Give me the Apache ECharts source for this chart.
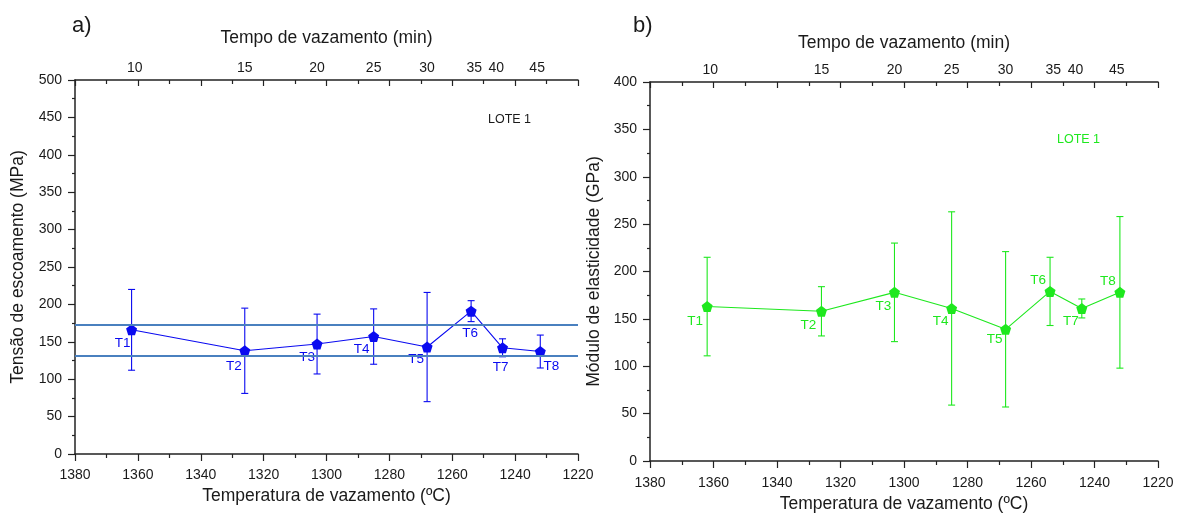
<!DOCTYPE html>
<html>
<head>
<meta charset="utf-8">
<script src="https://cdn.jsdelivr.net/npm/echarts@6/dist/echarts.min.js"></script>
<style>
  html, body { margin: 0; padding: 0; background: #fff; }
  #chart { width: 1180px; height: 521px; }
</style>
</head>
<body>
<div id="chart"></div>
<script>
// Pouring temperature of each sample (°C) and its label
const samples = ['T1', 'T2', 'T3', 'T4', 'T5', 'T6', 'T7', 'T8'];
const pourTemp = [1362, 1326, 1303, 1285, 1268, 1254, 1244, 1232];

// a) Yield stress (MPa) and its standard deviation
const yieldStress = [166, 138, 147, 157, 143, 191, 142, 137];
const yieldErr = [54, 57, 40, 37, 73, 14, 12, 22];
const yieldBand = [173, 131];

// b) Elastic modulus (GPa) and its standard deviation
const modulus = [163, 158, 178, 161, 139, 179, 161, 178];
const modulusErr = [52, 26, 52, 102, 82, 36, 10, 80];

// Pouring time (min) shown on the top axis, at the matching temperature
const timeLabels = ['10', '15', '20', '25', '30', '35', '40', '45'];
const timeAt = [1361, 1326, 1303, 1285, 1268, 1253, 1246, 1233];

// Label placement around each marker [dx, dy]
const labelShiftA = [[-9, 13], [-11, 16], [-10, 13], [-12, 13], [-11, 12], [-1, 22], [-2, 19], [11, 15]];
const labelShiftB = [[-12, 15], [-13, 14], [-11, 14], [-11, 13], [-11, 10], [-12, -11], [-11, 13], [-12, -11]];

const FONT = "'Liberation Sans', Arial, sans-serif";
const INK = '#1a1a1a';
const BLUE = '#0a0af0';
const GREEN = '#1ee81e';
const PENTAGON = 'path://M0,-1L0.951,-0.309L0.588,0.809L-0.588,0.809L-0.951,-0.309Z';

const chart = echarts.init(document.getElementById('chart'), null, { renderer: 'canvas' });

function plain(v) { return String(v); }

function bottomAxis(grid, gap, margin) {
  return {
    type: 'value', gridIndex: grid, position: 'bottom', inverse: true,
    min: 1220, max: 1380, interval: 20,
    name: 'Temperatura de vazamento (ºC)', nameLocation: 'middle', nameGap: gap,
    nameTextStyle: { fontFamily: FONT, fontSize: 17.5, color: INK },
    axisLine: { show: true, onZero: false, lineStyle: { color: '#222', width: 1.5 } },
    axisTick: { show: true, length: 7, lineStyle: { color: '#222', width: 1.2 } },
    minorTick: { show: true, splitNumber: 2, length: 4, lineStyle: { color: '#222', width: 1.2 } },
    axisLabel: { fontFamily: FONT, fontSize: 14, color: INK, margin: margin, formatter: plain, showMinLabel: true, showMaxLabel: true },
    splitLine: { show: false }, minorSplitLine: { show: false }
  };
}

function topAxis(grid, gap, margin) {
  return {
    type: 'value', gridIndex: grid, position: 'top', inverse: true,
    min: 1220, max: 1380, interval: 20,
    name: 'Tempo de vazamento (min)', nameLocation: 'middle', nameGap: gap,
    nameTextStyle: { fontFamily: FONT, fontSize: 17.5, color: INK },
    axisLine: { show: true, onZero: false, lineStyle: { color: '#222', width: 1.5 } },
    axisTick: { show: true, inside: true, length: 6, lineStyle: { color: '#222', width: 1.2 } },
    minorTick: { show: true, splitNumber: 2, length: 4, lineStyle: { color: '#222', width: 1.2 } },
    axisLabel: {
      fontFamily: FONT, fontSize: 14, color: INK, margin: margin,
      customValues: timeAt,
      formatter: function (v) {
        const i = timeAt.findIndex(function (t) { return Math.abs(t - v) < 0.01; });
        return i >= 0 ? timeLabels[i] : '';
      }
    },
    splitLine: { show: false }, minorSplitLine: { show: false }
  };
}

function leftAxis(grid, max, name, gap) {
  return {
    type: 'value', gridIndex: grid, min: 0, max: max, interval: 50,
    name: name, nameLocation: 'middle', nameGap: gap,
    nameTextStyle: { fontFamily: FONT, fontSize: 17.5, color: INK },
    axisLine: { show: true, onZero: false, lineStyle: { color: '#222', width: 1.5 } },
    axisTick: { show: true, length: 7, lineStyle: { color: '#222', width: 1.2 } },
    minorTick: { show: true, splitNumber: 2, length: 3, lineStyle: { color: '#222', width: 1.2 } },
    axisLabel: { fontFamily: FONT, fontSize: 14, color: INK, margin: 13, formatter: plain },
    splitLine: { show: false }, minorSplitLine: { show: false }
  };
}

function errorBars(xIdx, yIdx, values, errs, color) {
  return {
    type: 'custom', xAxisIndex: xIdx, yAxisIndex: yIdx, z: 2, silent: true,
    data: pourTemp.map(function (t, i) { return [t, values[i] - errs[i], values[i] + errs[i]]; }),
    renderItem: function (params, api) {
      const top = api.coord([api.value(0), api.value(2)]);
      const bot = api.coord([api.value(0), api.value(1)]);
      const w = 3.5;
      const st = { stroke: color, lineWidth: 1.1 };
      return {
        type: 'group',
        children: [
          { type: 'line', shape: { x1: top[0], y1: top[1], x2: bot[0], y2: bot[1] }, style: st },
          { type: 'line', shape: { x1: top[0] - w, y1: top[1], x2: top[0] + w, y2: top[1] }, style: st },
          { type: 'line', shape: { x1: bot[0] - w, y1: bot[1], x2: bot[0] + w, y2: bot[1] }, style: st }
        ]
      };
    }
  };
}

function pointSeries(xIdx, yIdx, values, color, shifts, extra) {
  const s = {
    type: 'line', xAxisIndex: xIdx, yAxisIndex: yIdx, z: 3,
    symbol: PENTAGON, symbolSize: 11, showAllSymbol: true,
    lineStyle: { color: color, width: 1.1 },
    itemStyle: { color: color },
    data: pourTemp.map(function (t, i) {
      return {
        value: [t, values[i]],
        label: { show: true, position: 'inside', offset: shifts[i], formatter: samples[i] }
      };
    }),
    label: { fontFamily: FONT, fontSize: 13.5, color: color, align: 'center', verticalAlign: 'middle' },
    emphasis: { disabled: true },
    animation: false
  };
  return Object.assign(s, extra || {});
}

chart.setOption({
  animation: false,
  backgroundColor: '#ffffff',
  grid: [
    { left: 75, top: 80, width: 503, height: 374, containLabel: false },
    { left: 650, top: 82, width: 508, height: 379, containLabel: false }
  ],
  xAxis: [
    bottomAxis(0, 29, 14),
    topAxis(0, 33, 5),
    bottomAxis(1, 27, 15),
    topAxis(1, 30, 5)
  ],
  yAxis: [
    leftAxis(0, 500, 'Tensão de escoamento (MPa)', 48),
    leftAxis(1, 400, 'Módulo de elasticidade (GPa)', 47)
  ],
  series: [
    errorBars(0, 0, yieldStress, yieldErr, BLUE),
    pointSeries(0, 0, yieldStress, BLUE, labelShiftA, {
      markLine: {
        silent: true, symbol: 'none', animation: false,
        label: { show: false },
        lineStyle: { color: '#4a80bf', width: 2, type: 'solid' },
        data: yieldBand.map(function (v) { return { yAxis: v }; })
      }
    }),
    errorBars(2, 1, modulus, modulusErr, GREEN),
    pointSeries(2, 1, modulus, GREEN, labelShiftB)
  ],
  graphic: [
    { type: 'text', left: 72, top: 15, style: { text: 'a)', font: '22px ' + FONT, fill: INK } },
    { type: 'text', left: 633, top: 15, style: { text: 'b)', font: '22px ' + FONT, fill: INK } },
    { type: 'text', left: 488, top: 113, style: { text: 'LOTE 1', font: '12.5px ' + FONT, fill: INK } },
    { type: 'text', left: 1057, top: 133, style: { text: 'LOTE 1', font: '12.5px ' + FONT, fill: GREEN } }
  ]
});
</script>
</body>
</html>
